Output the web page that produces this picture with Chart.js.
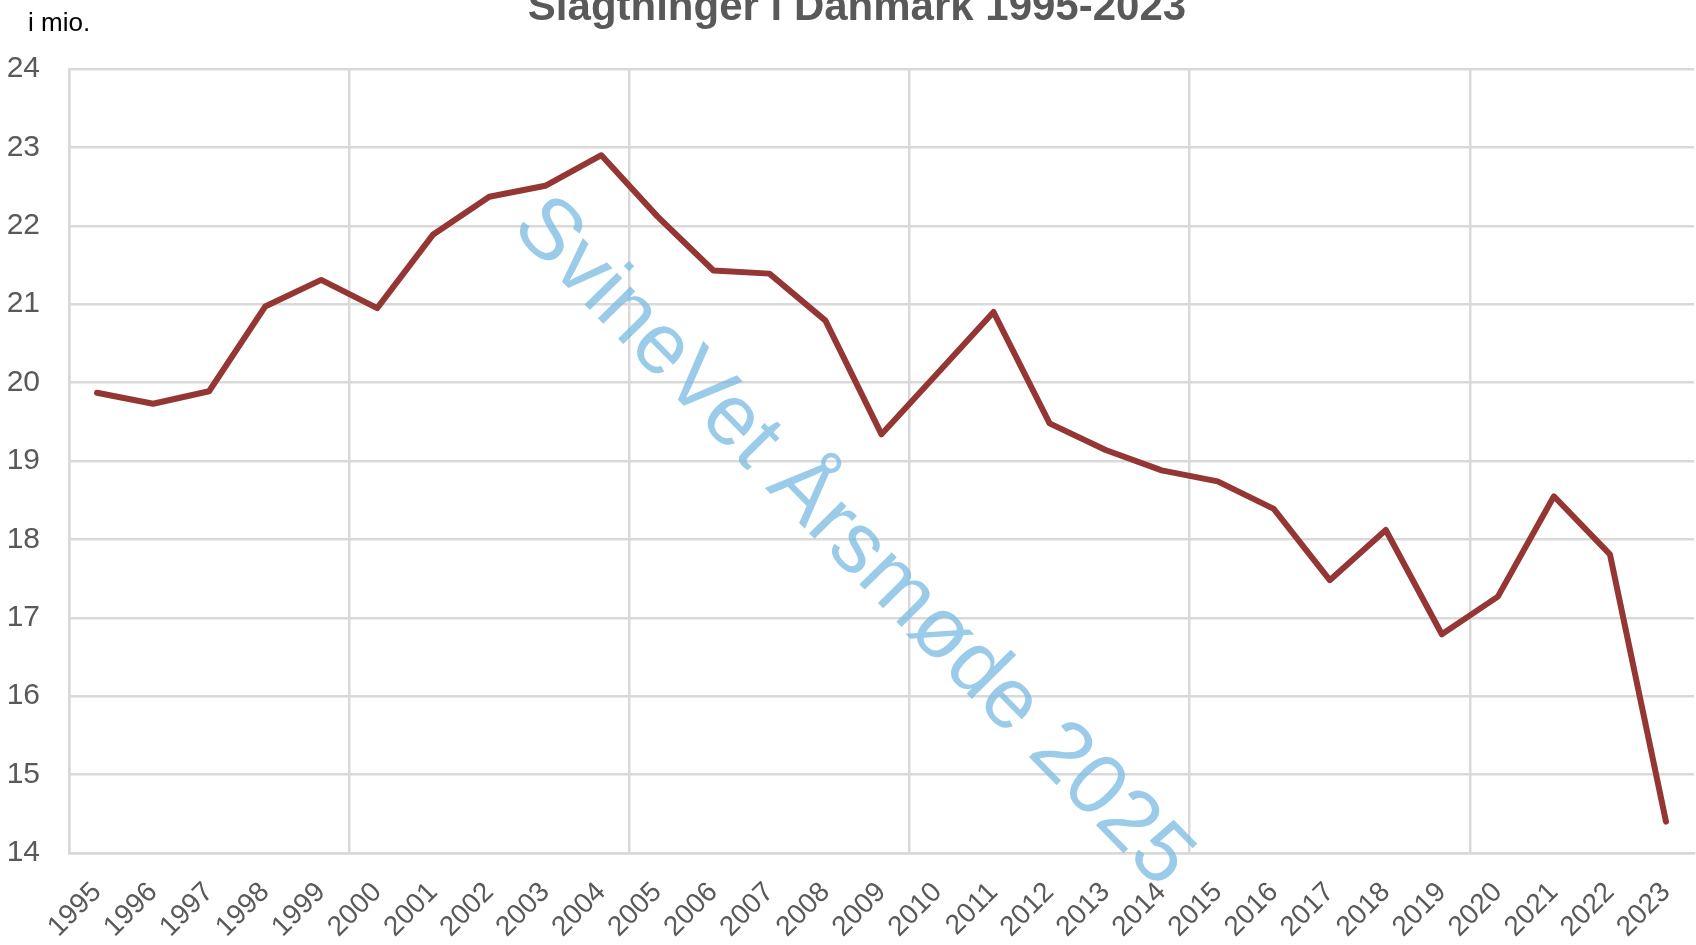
<!DOCTYPE html>
<html>
<head>
<meta charset="utf-8">
<script src="https://cdn.jsdelivr.net/npm/chart.js@4"></script>
<style>
    html, body { margin: 0; padding: 0; background: #fff; }
    #wrap { width: 1696px; height: 945px; }
</style>
</head>
<body>
<div id="wrap"><canvas id="slagtChart" width="1696" height="945"></canvas></div>
<script>
const years = ['1995', '1996', '1997', '1998', '1999', '2000', '2001', '2002', '2003', '2004',
    '2005', '2006', '2007', '2008', '2009', '2010', '2011', '2012', '2013', '2014',
    '2015', '2016', '2017', '2018', '2019', '2020', '2021', '2022', '2023'];

// slagtninger, mio. stk.
const slaughtered = [19.87, 19.73, 19.89, 20.97, 21.31, 20.95, 21.89, 22.37, 22.51, 22.90,
    22.12, 21.43, 21.39, 20.79, 19.34, 20.12, 20.90, 19.48, 19.14, 18.88,
    18.74, 18.39, 17.48, 18.12, 16.79, 17.27, 18.55, 17.81, 14.40];

const yMin = 14;
const yMax = 24;

const chartTitle = 'Slagtninger i Danmark 1995-2023';
const unitLabel = 'i mio.';
const watermark = 'SvineVet Årsmøde 2025';

const gridGray = '#d9d9d9';
const textGray = '#595959';

const textPlugin = {
    id: 'extraTexts',
    afterDraw: function (chart) {
        const ctx = chart.ctx;
        ctx.save();
        ctx.fillStyle = textGray;
        ctx.font = 'bold 42px "Liberation Sans"';
        ctx.textAlign = 'center';
        ctx.textBaseline = 'alphabetic';
        ctx.fillText(chartTitle, 857, 20);

        ctx.fillStyle = '#000';
        ctx.font = '26px "Liberation Sans"';
        ctx.textAlign = 'left';
        ctx.fillText(unitLabel, 28, 31);
        ctx.restore();
    },
    afterDatasetsDraw: function (chart) {
        const ctx = chart.ctx;
        ctx.save();
        ctx.translate(852, 543);
        ctx.rotate(45.5 * Math.PI / 180);
        ctx.fillStyle = 'rgba(120, 185, 225, 0.75)';
        ctx.font = '86px "Liberation Sans"';
        ctx.textAlign = 'center';
        ctx.textBaseline = 'middle';
        ctx.fillText(watermark, 0, 0);
        ctx.restore();
    }
};

const ctx = document.getElementById('slagtChart').getContext('2d');
window.slagtChart = new Chart(ctx, {
    type: 'line',
    data: {
        labels: years,
        datasets: [{
            label: 'Slagtninger',
            data: slaughtered,
            borderColor: '#943634',
            borderWidth: 6,
            borderCapStyle: 'round',
            borderJoinStyle: 'round',
            pointRadius: 0,
            tension: 0,
            fill: false
        }]
    },
    options: {
        responsive: false,
        devicePixelRatio: 1,
        animation: false,
        layout: {
            padding: { top: 69, right: 2, bottom: 0, left: 0 }
        },
        plugins: {
            legend: { display: false },
            tooltip: { enabled: false }
        },
        scales: {
            x: {
                offset: true,
                afterFit: function (scale) {
                    scale.height = 92;
                    scale.paddingRight = 0;
                    scale.paddingLeft = 0;
                },
                grid: {
                    offset: true,
                    drawTicks: false,
                    lineWidth: 2.5,
                    color: function (c) {
                        return (c.index % 5 === 0 && c.index < years.length) ? gridGray : 'transparent';
                    }
                },
                border: { display: true, color: gridGray, width: 2.5 },
                ticks: {
                    autoSkip: false,
                    maxRotation: 45,
                    minRotation: 45,
                    padding: 23,
                    color: textGray,
                    font: { family: 'Liberation Sans', size: 28 }
                }
            },
            y: {
                min: yMin,
                max: yMax,
                afterFit: function (scale) { scale.width = 69; },
                grid: {
                    drawTicks: false,
                    lineWidth: 2.5,
                    color: gridGray
                },
                border: { display: true, color: gridGray, width: 2.5 },
                ticks: {
                    stepSize: 1,
                    padding: 29,
                    color: textGray,
                    font: { family: 'Liberation Sans', size: 30 }
                }
            }
        }
    },
    plugins: [textPlugin]
});
</script>
</body>
</html>
